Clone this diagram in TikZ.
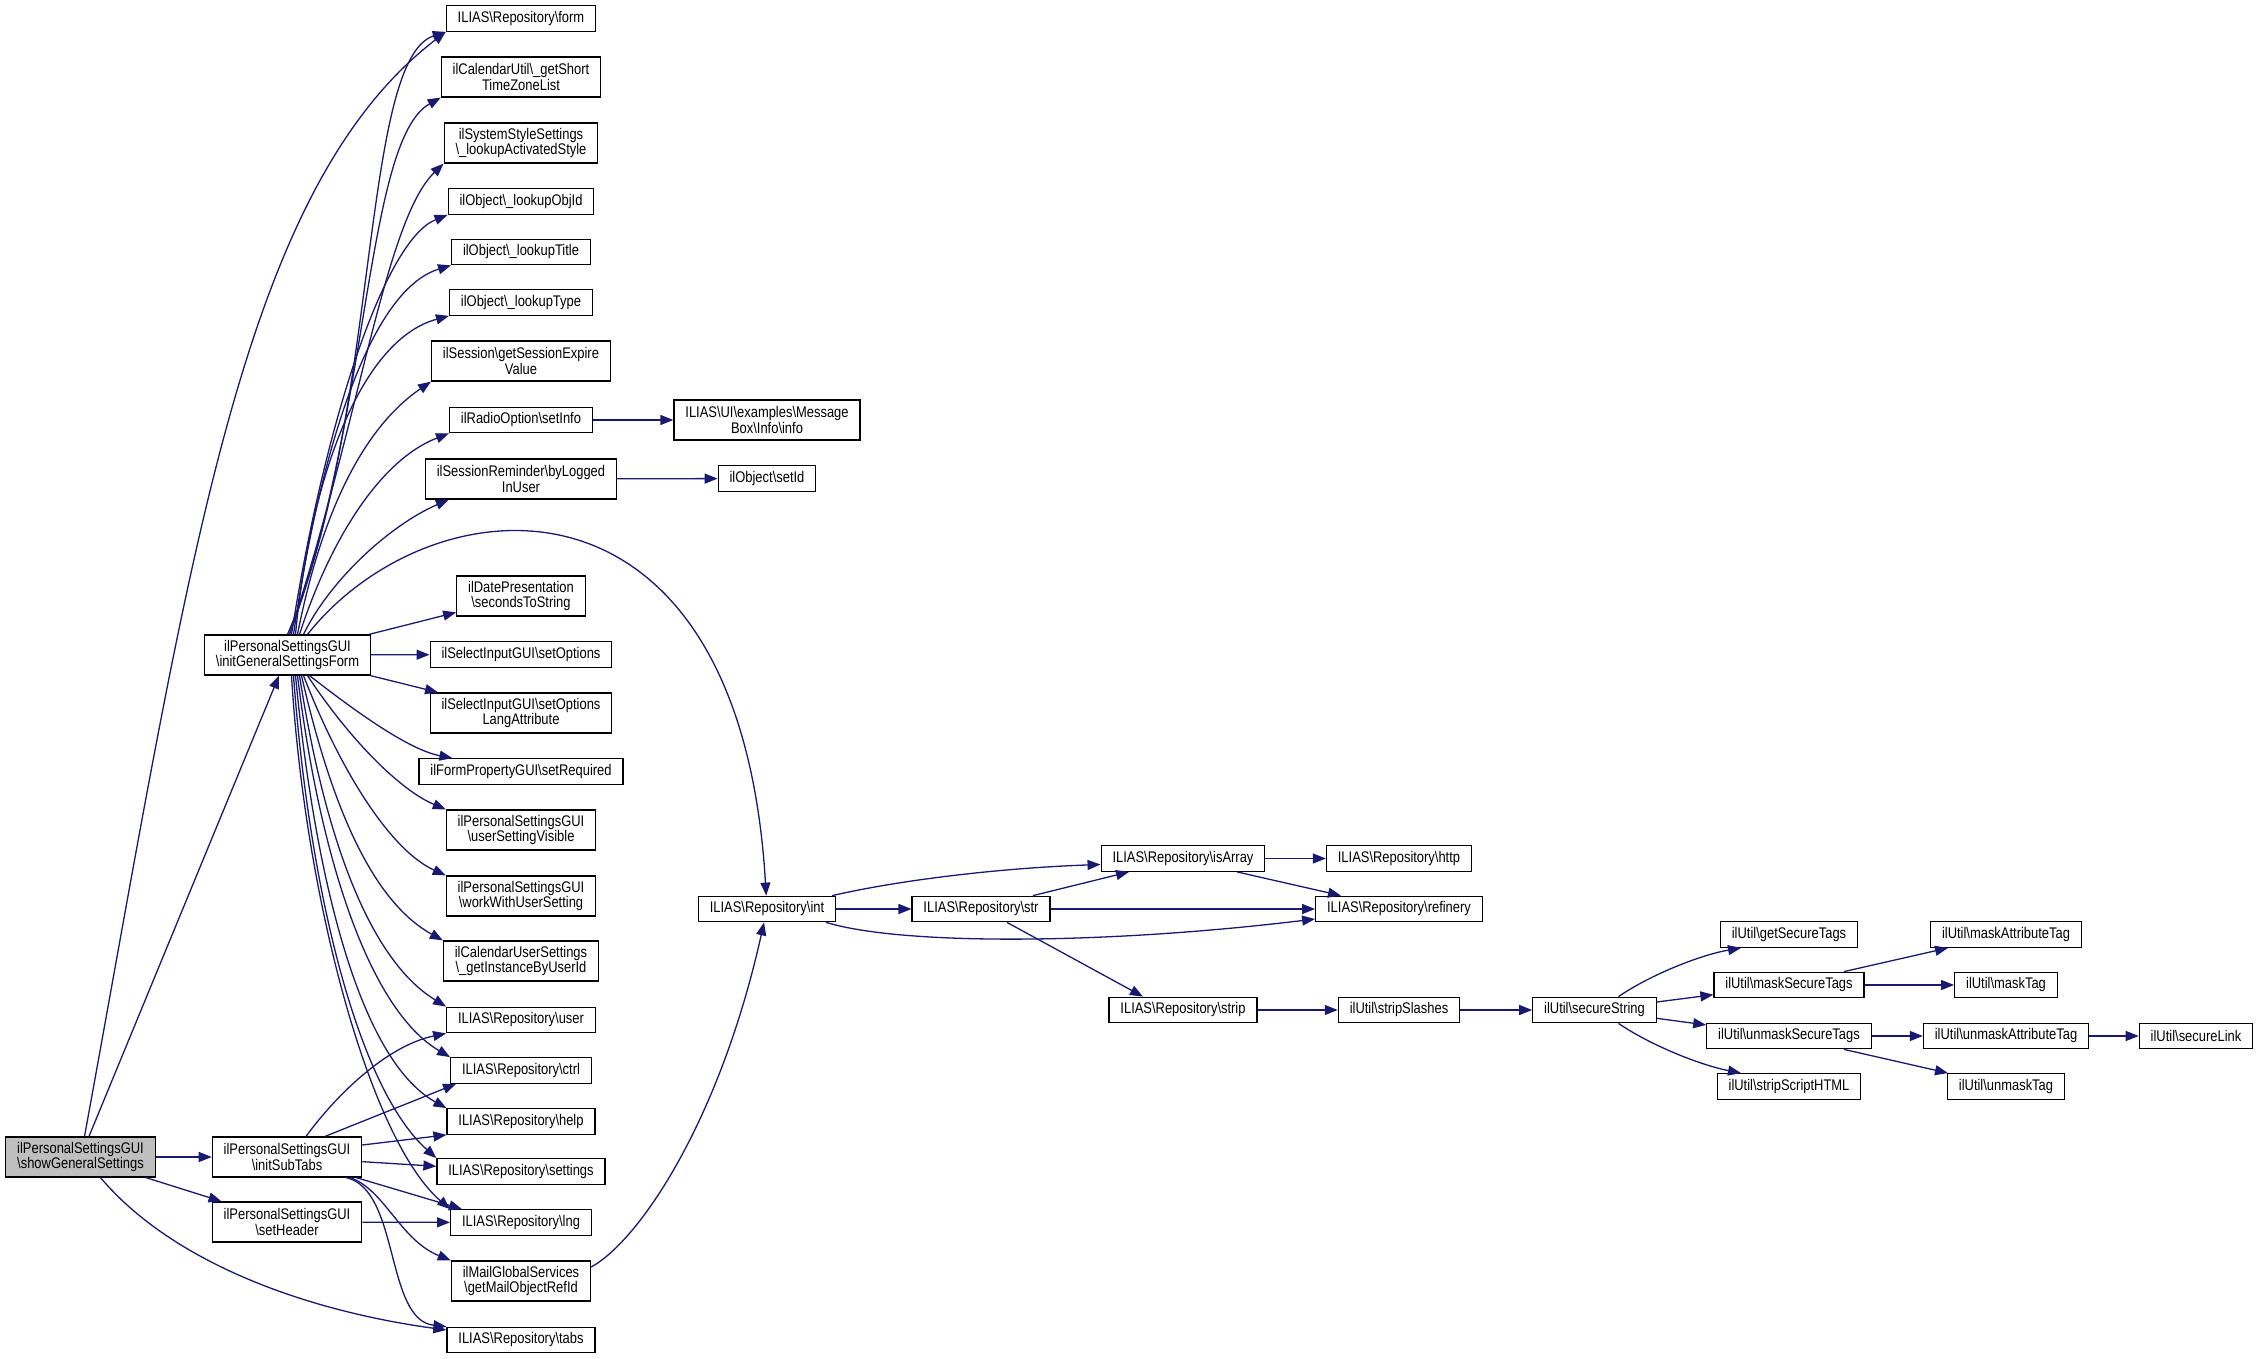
\documentclass[tikz,border=0pt]{standalone}
\usepackage{fontspec}
\setmainfont{Liberation Sans}[FakeStretch=0.84]
\usetikzlibrary{arrows.meta}
\definecolor{navyline}{HTML}{191970}
\definecolor{callergray}{HTML}{BFBFBF}
\newcommand{\bks}{\textbackslash}

\begin{document}
\begin{tikzpicture}[x=0.5pt,y=-0.5pt]
		\tikzstyle{fn} = [rectangle, draw=black, line width=0.6pt, fill=white, inner xsep=5.7pt, inner ysep=0pt, minimum height=12.8pt, align=center, font=\fontsize{7.7}{7.7}\selectfont]
		\tikzstyle{fntwo} = [fn, minimum height=20pt]
		\tikzstyle{call} = [draw=navyline, line width=0.65pt, -{Triangle[length=6.5pt,width=5pt]}]
		\useasboundingbox (0,0) rectangle (2259,1359);

		% callers on the left
		\node (show) [fntwo, fill=callergray] at (80.5,1157) {ilPersonalSettingsGUI\\\bks showGeneralSettings};
		\node (initForm) [fntwo] at (287.5,655) {ilPersonalSettingsGUI\\\bks initGeneralSettingsForm};
		\node (initTabs) [fntwo] at (287,1157) {ilPersonalSettingsGUI\\\bks initSubTabs};
		\node (setHeader) [fntwo] at (287,1222) {ilPersonalSettingsGUI\\\bks setHeader};

		% middle column
		\node (form) [fn] at (521,18.5) {ILIAS\bks Repository\bks form};
		\node (calTz) [fntwo] at (521,77) {ilCalendarUtil\bks\_getShort\\TimeZoneList};
		\node (sysStyle) [fntwo] at (521,143) {ilSystemStyleSettings\\\bks\_lookupActivatedStyle};
		\node (objId) [fn] at (521,201.5) {ilObject\bks\_lookupObjId};
		\node (objTitle) [fn] at (521,252) {ilObject\bks\_lookupTitle};
		\node (objType) [fn] at (521,302.5) {ilObject\bks\_lookupType};
		\node (sessExp) [fntwo] at (521,361) {ilSession\bks getSessionExpire\\Value};
		\node (setInfo) [fn] at (521,420) {ilRadioOption\bks setInfo};
		\node (byUser) [fntwo] at (521,479) {ilSessionReminder\bks byLogged\\InUser};
		\node (datePres) [fntwo] at (521,596) {ilDatePresentation\\\bks secondsToString};
		\node (setOpt) [fn] at (521,654.5) {ilSelectInputGUI\bks setOptions};
		\node (setOptLang) [fntwo] at (521,713) {ilSelectInputGUI\bks setOptions\\LangAttribute};
		\node (setReq) [fn] at (521,771.5) {ilFormPropertyGUI\bks setRequired};
		\node (userVis) [fntwo] at (521,830) {ilPersonalSettingsGUI\\\bks userSettingVisible};
		\node (workUser) [fntwo] at (521,896) {ilPersonalSettingsGUI\\\bks workWithUserSetting};
		\node (calInst) [fntwo] at (521,961) {ilCalendarUserSettings\\\bks\_getInstanceByUserId};
		\node (user) [fn] at (521,1020) {ILIAS\bks Repository\bks user};
		\node (ctrl) [fn] at (521,1070.5) {ILIAS\bks Repository\bks ctrl};
		\node (help) [fn] at (521,1121.5) {ILIAS\bks Repository\bks help};
		\node (settings) [fn] at (521,1171.5) {ILIAS\bks Repository\bks settings};
		\node (lng) [fn] at (521,1222.5) {ILIAS\bks Repository\bks lng};
		\node (mailRef) [fntwo] at (521,1281) {ilMailGlobalServices\\\bks getMailObjectRefId};
		\node (tabs) [fn] at (521,1340) {ILIAS\bks Repository\bks tabs};

		% further calls
		\node (msgInfo) [fntwo] at (767,420) {ILIAS\bks UI\bks examples\bks Message\\Box\bks Info\bks info};
		\node (setId) [fn] at (767,478.5) {ilObject\bks setId};
		\node (int) [fn] at (767,909) {ILIAS\bks Repository\bks int};
		\node (str) [fn] at (981,909) {ILIAS\bks Repository\bks str};
		\node (isArray) [fn] at (1183,858.5) {ILIAS\bks Repository\bks isArray};
		\node (http) [fn] at (1399,858.5) {ILIAS\bks Repository\bks http};
		\node (refinery) [fn] at (1399,909) {ILIAS\bks Repository\bks refinery};
		\node (strip) [fn] at (1183,1010) {ILIAS\bks Repository\bks strip};
		\node (stripSl) [fn] at (1399,1010) {ilUtil\bks stripSlashes};
		\node (secStr) [fn] at (1594.5,1010) {ilUtil\bks secureString};
		\node (getTags) [fn] at (1789,934.5) {ilUtil\bks getSecureTags};
		\node (maskTags) [fn] at (1789,985) {ilUtil\bks maskSecureTags};
		\node (unmaskTags) [fn] at (1789,1036) {ilUtil\bks unmaskSecureTags};
		\node (stripHtml) [fn] at (1789,1086.5) {ilUtil\bks stripScriptHTML};
		\node (maskAttr) [fn] at (2006,934.5) {ilUtil\bks maskAttributeTag};
		\node (maskTag) [fn] at (2006,985) {ilUtil\bks maskTag};
		\node (unmaskAttr) [fn] at (2006,1036) {ilUtil\bks unmaskAttributeTag};
		\node (unmaskTag) [fn] at (2006,1086.5) {ilUtil\bks unmaskTag};
		\node (secLink) [fn] at (2196,1036) {ilUtil\bks secureLink};

		% showGeneralSettings
		\draw[call] ([xshift=2pt]show.north) .. controls (190,560) and (240,190) .. (form.south west);
		\draw[call] (show) -- (initForm);
		\draw[call] (show) -- (initTabs);
		\draw[call] (show) -- (setHeader);
		\draw[call] ([xshift=10pt]show.south) .. controls (170,1260) and (300,1310) .. ([yshift=5pt]tabs.west);

		% initGeneralSettingsForm, upwards
		\draw[call] (initForm.north) .. controls (380,420) and (360,60) .. (form.south west);
		\draw[call] ([xshift=1pt]initForm.north) .. controls (370,420) and (365,140) .. (calTz.south west);
		\draw[call] ([xshift=1pt]initForm.north) .. controls (360,420) and (385,220) .. (sysStyle.south west);
		\draw[call] ([xshift=2pt]initForm.north) .. controls (325,420) and (385,240) .. (objId.south west);
		\draw[call] ([xshift=3pt]initForm.north) .. controls (320,450) and (370,290) .. (objTitle.south west);
		\draw[call] ([xshift=4pt]initForm.north) .. controls (310,480) and (360,340) .. (objType.south west);
		\draw[call] ([xshift=5pt]initForm.north) .. controls (320,520) and (360,430) .. (sessExp.south west);
		\draw[call] ([xshift=6pt]initForm.north) .. controls (330,540) and (380,460) .. (setInfo.south west);
		\draw[call] ([xshift=8pt]initForm.north) .. controls (330,580) and (390,525) .. ([xshift=12pt]byUser.south west);
		\draw[call] ([xshift=10pt]initForm.north) .. controls (430,480) and (740,450) .. (int);
		\draw[call] (initForm) -- (datePres);
		\draw[call] (initForm) -- (setOpt);
		\draw[call] (initForm) -- (setOptLang);

		% initGeneralSettingsForm, downwards
		\draw[call] ([xshift=11pt]initForm.south) .. controls (360,715) and (410,750) .. ([xshift=17pt]setReq.north west);
		\draw[call] ([xshift=10pt]initForm.south) .. controls (350,740) and (400,790) .. (userVis.north west);
		\draw[call] ([xshift=8pt]initForm.south) .. controls (340,770) and (390,850) .. (workUser.north west);
		\draw[call] ([xshift=7pt]initForm.south) .. controls (330,800) and (370,900) .. (calInst.north west);
		\draw[call] ([xshift=6pt]initForm.south) .. controls (325,840) and (370,960) .. (user.north west);
		\draw[call] ([xshift=5pt]initForm.south) .. controls (320,860) and (370,1010) .. (ctrl.north west);
		\draw[call] ([xshift=4pt]initForm.south) .. controls (315,880) and (360,1060) .. (help.north west);
		\draw[call] ([xshift=3pt]initForm.south) .. controls (310,900) and (360,1090) .. (settings.north west);
		\draw[call] ([xshift=2pt]initForm.south) .. controls (305,900) and (370,1140) .. (lng.north west);

		% initSubTabs and setHeader
		\draw[call] ([xshift=9.5pt]initTabs.north) .. controls (340,1090) and (390,1045) .. (user.south west);
		\draw[call] ([xshift=19pt]initTabs.north) -- ([xshift=3pt]ctrl.south west);
		\draw[call] ([yshift=6pt]initTabs.east) -- (help.south west);
		\draw[call] (initTabs) -- (settings);
		\draw[call] (initTabs) -- ([xshift=6pt]lng.north west);
		\draw[call] ([xshift=-6pt]initTabs.south east) .. controls (385,1190) and (400,1240) .. (mailRef.north west);
		\draw[call] ([xshift=-8pt]initTabs.south east) .. controls (400,1190) and (385,1320) .. (tabs.north west);
		\draw[call] (setHeader) -- (lng);

		% right part
		\draw[call] (setInfo) -- (msgInfo);
		\draw[call] (byUser) -- (setId);
		\draw[call] ([yshift=7pt]mailRef.east) .. controls (640,1240) and (720,1120) .. (int);
		\draw[call] ([xshift=-2pt]int.north east) .. controls (900,880) and (1000,868) .. ([yshift=-3pt]isArray.west);
		\draw[call] (int) -- (str);
		\draw[call] ([xshift=-5pt]int.south east) .. controls (900,945) and (1100,945) .. ([yshift=-5pt]refinery.west);
		\draw[call] ([xshift=26pt]str.north) -- ([xshift=-27pt]isArray.south);
		\draw[call] (str) -- (refinery);
		\draw[call] ([xshift=13pt]str.south) -- ([xshift=-20pt]strip.north);
		\draw[call] (isArray) -- (http);
		\draw[call] ([xshift=27pt]isArray.south) -- ([xshift=-29pt]refinery.north);
		\draw[call] (strip) -- (stripSl);
		\draw[call] (stripSl) -- (secStr);
		\draw[call] ([xshift=12pt]secStr.north) .. controls (1650,975) and (1700,955) .. ([xshift=-24pt]getTags.south);
		\draw[call] (secStr) -- (maskTags);
		\draw[call] (secStr) -- (unmaskTags);
		\draw[call] ([xshift=12pt]secStr.south) .. controls (1650,1045) and (1700,1065) .. ([xshift=-24pt]stripHtml.north);
		\draw[call] ([xshift=27.5pt]maskTags.north) -- ([xshift=-29pt]maskAttr.south);
		\draw[call] (maskTags) -- (maskTag);
		\draw[call] (unmaskTags) -- (unmaskAttr);
		\draw[call] ([xshift=27.5pt]unmaskTags.south) -- ([xshift=-29pt]unmaskTag.north);
		\draw[call] (unmaskAttr) -- (secLink);
	\end{tikzpicture}
\end{document}
